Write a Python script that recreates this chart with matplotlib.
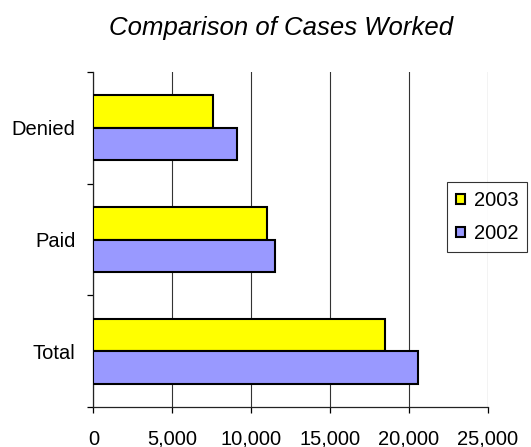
import numpy as np
import matplotlib
matplotlib.use("Agg")
import matplotlib.pyplot as plt
from matplotlib.ticker import FuncFormatter, FixedLocator

# Data
categories = ["Total", "Paid", "Denied"]
cases_2003 = [18500, 11000, 7550]
cases_2002 = [20600, 11500, 9100]
x_ticks = [0, 5000, 10000, 15000, 20000, 25000]

plt.rcParams["font.family"] = ["Liberation Sans", "DejaVu Sans"]

fig = plt.figure(figsize=(5.31, 4.47), dpi=100)
ax = fig.add_axes([0.176, 0.0888, 0.7425, 0.7508])

y = np.arange(len(categories))
h = 0.29
ax.barh(y + h / 2, cases_2003, height=h, color="#FFFF00", edgecolor="black",
        linewidth=1.5, label="2003", zorder=3)
ax.barh(y - h / 2, cases_2002, height=h, color="#9999FF", edgecolor="black",
        linewidth=1.5, label="2002", zorder=3)

ax.set_xlim(0, 25000)
ax.set_ylim(-0.5, len(categories) - 0.5)
ax.set_xticks(x_ticks)
ax.xaxis.set_major_formatter(FuncFormatter(lambda v, p: f"{int(v):,}"))
ax.set_yticks(y)
ax.set_yticklabels(categories)
ax.yaxis.set_minor_locator(FixedLocator(np.arange(-0.5, len(categories), 1.0)))

ax.tick_params(axis="x", direction="out", length=4, width=0.9, labelsize=14.5, pad=12)
ax.tick_params(axis="y", which="major", length=0, labelsize=14.5, pad=13)
ax.tick_params(axis="y", which="minor", direction="out", length=4, width=0.9)

ax.grid(axis="x", color="#333333", linewidth=0.8, zorder=0)
ax.set_axisbelow(True)
for s in ["top", "right"]:
    ax.spines[s].set_visible(False)
for s in ["left", "bottom"]:
    ax.spines[s].set_linewidth(0.9)
    ax.spines[s].set_color("#222222")

leg = ax.legend(loc="upper left", bbox_to_anchor=(447 / 531, 1 - 182 / 447),
                bbox_transform=fig.transFigure, fontsize=14.5, frameon=True,
                fancybox=False, edgecolor="black", handlelength=0.42,
                handleheight=0.42, handletextpad=0.45, labelspacing=0.7,
                borderpad=0.45, borderaxespad=0)
leg.get_frame().set_linewidth(0.8)

fig.text(281 / 531, 1 - 35 / 447, "Comparison of Cases Worked", ha="center",
         va="baseline", fontsize=18.5, style="italic")

fig.savefig("out.png", dpi=100)
